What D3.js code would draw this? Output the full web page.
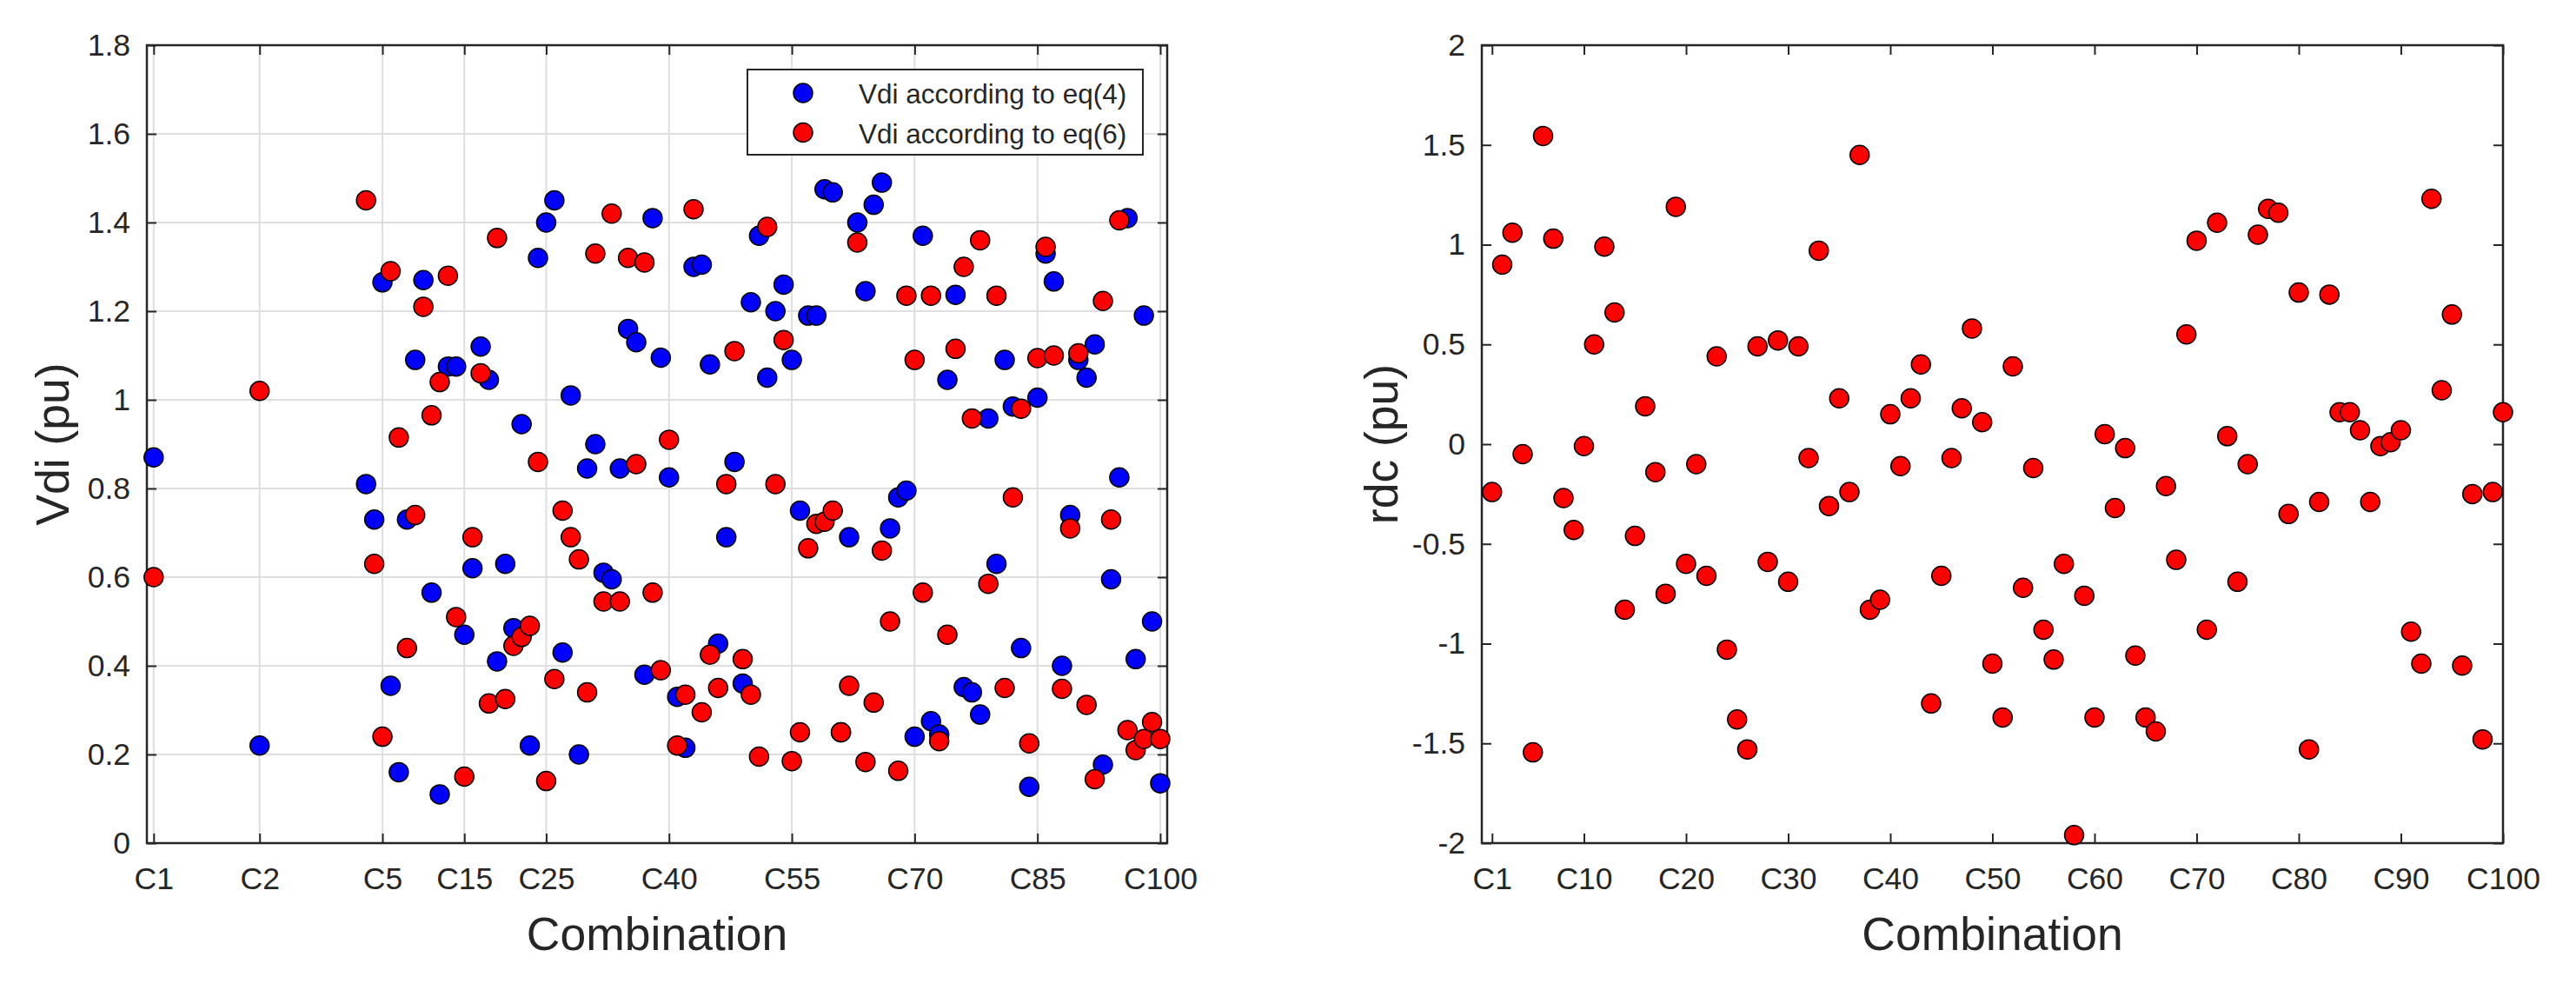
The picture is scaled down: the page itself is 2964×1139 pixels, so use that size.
<!DOCTYPE html>
<html>
<head>
<meta charset="utf-8">
<script src="https://cdn.jsdelivr.net/npm/d3@7"></script>
<style>
  html, body { margin: 0; padding: 0; background: #ffffff; }
  svg text { font-family: "Liberation Sans", Arial, Helvetica, sans-serif; fill: #262626; }
</style>
</head>
<body>
<svg id="chart" width="2964" height="1139"></svg>
<script>
// ---------------- DATA ----------------
// Combination index (1..100) for every point
const combos = d3.range(1, 101);

// Left panel: Vdi according to eq(4) (blue) and eq(6) (red), pu
const vdiEq4 = [
  0.87, 0.22, 0.81, 0.73, 1.265, 0.355, 0.16, 0.73, 1.09, 1.27,
  0.565, 0.11, 1.075, 1.075, 0.47, 0.62, 1.12, 1.045, 0.41, 0.63,
  0.485, 0.945, 0.22, 1.32, 1.40, 1.45, 0.43, 1.01, 0.20, 0.845,
  0.90, 0.61, 0.595, 0.845, 1.16, 1.13, 0.38, 1.41, 1.095, 0.825,
  0.33, 0.215, 1.30, 1.305, 1.08, 0.45, 0.69, 0.86, 0.36, 1.22,
  1.37, 1.05, 1.20, 1.26, 1.09, 0.75, 1.19, 1.19, 1.475, 1.468,
  0.25, 0.69, 1.40, 1.245, 1.44, 1.49, 0.71, 0.78, 0.795, 0.24,
  1.37, 0.275, 0.245, 1.045, 1.237, 0.352, 0.34, 0.29, 0.958, 0.63,
  1.09, 0.985, 0.44, 0.127, 1.005, 1.33, 1.267, 0.40, 0.74, 1.09,
  1.05, 1.125, 0.177, 0.595, 0.825, 1.41, 0.415, 1.19, 0.50, 0.135
];
const vdiEq6 = [
  0.60, 1.02, 1.45, 0.63, 0.24, 1.29, 0.915, 0.44, 0.74, 1.21,
  0.965, 1.04, 1.28, 0.51, 0.15, 0.69, 1.06, 0.315, 1.365, 0.325,
  0.445, 0.465, 0.49, 0.86, 0.14, 0.37, 0.75, 0.69, 0.64, 0.34,
  1.33, 0.545, 1.42, 0.545, 1.32, 0.855, 1.31, 0.565, 0.39, 0.91,
  0.22, 0.335, 1.43, 0.295, 0.425, 0.35, 0.81, 1.11, 0.415, 0.335,
  0.195, 1.39, 0.81, 1.135, 0.185, 0.25, 0.665, 0.72, 0.725, 0.75,
  0.25, 0.355, 1.355, 0.183, 0.317, 0.66, 0.50, 0.163, 1.235, 1.09,
  0.565, 1.235, 0.23, 0.47, 1.115, 1.30, 0.958, 1.36, 0.585, 1.235,
  0.35, 0.78, 0.98, 0.225, 1.094, 1.345, 1.10, 0.348, 0.71, 1.105,
  0.312, 0.144, 1.223, 0.73, 1.405, 0.255, 0.21, 0.235, 0.273, 0.235
];

// Right panel: rdc, pu
const rdc = [
  -0.24, 0.90, 1.06, -0.05, -1.545, 1.545, 1.03, -0.27, -0.43, -0.01,
  0.50, 0.99, 0.66, -0.83, -0.46, 0.19, -0.14, -0.75, 1.19, -0.60,
  -0.10, -0.66, 0.44, -1.03, -1.38, -1.53, 0.49, -0.59, 0.52, -0.69,
  0.49, -0.07, 0.97, -0.31, 0.23, -0.24, 1.45, -0.83, -0.78, 0.15,
  -0.11, 0.23, 0.40, -1.30, -0.66, -0.07, 0.18, 0.58, 0.11, -1.10,
  -1.37, 0.39, -0.72, -0.12, -0.93, -1.08, -0.60, -1.96, -0.76, -1.37,
  0.05, -0.32, -0.02, -1.06, -1.37, -1.44, -0.21, -0.58, 0.55, 1.02,
  -0.93, 1.11, 0.04, -0.69, -0.10, 1.05, 1.18, 1.16, -0.35, 0.76,
  -1.53, -0.29, 0.75, 0.16, 0.16, 0.07, -0.29, -0.01, 0.01, 0.07,
  -0.94, -1.10, 1.23, 0.27, 0.65, -1.11, -0.25, -1.48, -0.24, 0.16
];

// Tick positions (combination index) and labels
const leftXTicks = [1, 2, 5, 15, 25, 40, 55, 70, 85, 100];
const rightXTicks = [1, 10, 20, 30, 40, 50, 60, 70, 80, 90, 100];
const leftYTicks = [0, 0.2, 0.4, 0.6, 0.8, 1, 1.2, 1.4, 1.6, 1.8];
const rightYTicks = [-2, -1.5, -1, -0.5, 0, 0.5, 1, 1.5, 2];
const seriesNames = ["Vdi according to eq(4)", "Vdi according to eq(6)"];

// ---------------- LAYOUT ----------------
const svg = d3.select("#chart");
const axisColor = "#262626";
const tickFont = 35.5;
const labelFont = 53.5;
const markerR = 11;
const blue = "#0000ff", red = "#ff0000";

const panelL = { left: 169, right: 1343, top: 52, bottom: 970 };
const panelR = { left: 1705, right: 2880, top: 52, bottom: 970 };

// left panel x: first combinations are spread out, the rest evenly spaced
const xL = d3.scaleLinear().domain([1, 2, 3, 100]).range([176.8, 298.7, 421.2, 1335]);
const yL = d3.scaleLinear().domain([0, 1.8]).range([panelL.bottom, panelL.top]);
const xR = d3.scaleLinear().domain([0, 100]).range([panelR.left, panelR.right]);
const yR = d3.scaleLinear().domain([-2, 2]).range([panelR.bottom, panelR.top]);

const fmtY = d => String(d);
const fmtC = d => "C" + d;

function drawAxes(panel, x, y, xTicks, yTicks, grid) {
  const g = svg.append("g");
  const w = panel.right - panel.left, h = panel.bottom - panel.top;

  if (grid) {
    const gg = g.append("g").attr("stroke", "#dedede").attr("stroke-width", 2);
    gg.selectAll("line.v").data(xTicks).join("line")
      .attr("x1", d => x(d)).attr("x2", d => x(d))
      .attr("y1", panel.top).attr("y2", panel.bottom);
    gg.selectAll("line.h").data(yTicks).join("line")
      .attr("x1", panel.left).attr("x2", panel.right)
      .attr("y1", d => y(d)).attr("y2", d => y(d));
  }

  // x range limited to panel edges for the axis generators
  const xAx = x.copy();
  const yAx = y.copy();

  const bottom = g.append("g").attr("transform", `translate(0,${panel.bottom})`)
    .call(d3.axisBottom(xAx).tickValues(xTicks).tickFormat(fmtC)
      .tickSizeInner(-11).tickSizeOuter(0).tickPadding(28));
  const top = g.append("g").attr("transform", `translate(0,${panel.top})`)
    .call(d3.axisTop(xAx).tickValues(xTicks).tickFormat("")
      .tickSizeInner(-11).tickSizeOuter(0));
  const left = g.append("g").attr("transform", `translate(${panel.left},0)`)
    .call(d3.axisLeft(yAx).tickValues(yTicks).tickFormat(fmtY)
      .tickSizeInner(-11).tickSizeOuter(0).tickPadding(19));
  const right = g.append("g").attr("transform", `translate(${panel.right},0)`)
    .call(d3.axisRight(yAx).tickValues(yTicks).tickFormat("")
      .tickSizeInner(-11).tickSizeOuter(0));

  [bottom, top, left, right].forEach(a => {
    a.select(".domain").remove();
    a.selectAll(".tick line").attr("stroke", axisColor).attr("stroke-width", 2);
    a.selectAll(".tick text").attr("font-size", tickFont).attr("fill", axisColor)
      .style("font-family", '"Liberation Sans", Arial, sans-serif');
  });

  g.append("rect")
    .attr("x", panel.left).attr("y", panel.top)
    .attr("width", w).attr("height", h)
    .attr("fill", "none").attr("stroke", axisColor).attr("stroke-width", 2.5);
  return g;
}

// ---------------- LEFT PANEL ----------------
drawAxes(panelL, xL, yL, leftXTicks, leftYTicks, true);

const ptsL = svg.append("g");
ptsL.selectAll("circle.b").data(combos).join("circle")
  .attr("cx", d => xL(d)).attr("cy", (d, i) => yL(vdiEq4[i])).attr("r", markerR)
  .attr("fill", blue).attr("stroke", "#000").attr("stroke-width", 1.5);
ptsL.selectAll("circle.r").data(combos).join("circle")
  .attr("cx", d => xL(d)).attr("cy", (d, i) => yL(vdiEq6[i])).attr("r", markerR)
  .attr("fill", red).attr("stroke", "#000").attr("stroke-width", 1.5);

svg.append("text")
  .attr("x", (panelL.left + panelL.right) / 2).attr("y", 1093)
  .attr("text-anchor", "middle").attr("font-size", labelFont)
  .text("Combination");
svg.append("text")
  .attr("transform", `translate(79,${(panelL.top + panelL.bottom) / 2}) rotate(-90)`)
  .attr("text-anchor", "middle").attr("font-size", labelFont)
  .text("Vdi (pu)");

// legend
const leg = svg.append("g");
leg.append("rect").attr("x", 860).attr("y", 80).attr("width", 455).attr("height", 98)
  .attr("fill", "#fff").attr("stroke", axisColor).attr("stroke-width", 2);
const legRows = [{ name: seriesNames[0], color: blue, cy: 107 }, { name: seriesNames[1], color: red, cy: 152.5 }];
legRows.forEach(r => {
  leg.append("circle").attr("cx", 924).attr("cy", r.cy).attr("r", markerR)
    .attr("fill", r.color).attr("stroke", "#000").attr("stroke-width", 1.5);
  leg.append("text").attr("x", 988).attr("y", r.cy + 12)
    .attr("font-size", 31.5).text(r.name);
});

// ---------------- RIGHT PANEL ----------------
drawAxes(panelR, xR, yR, rightXTicks, rightYTicks, false);

svg.append("g").selectAll("circle").data(combos).join("circle")
  .attr("cx", d => xR(d)).attr("cy", (d, i) => yR(rdc[i])).attr("r", markerR)
  .attr("fill", red).attr("stroke", "#000").attr("stroke-width", 1.5);

svg.append("text")
  .attr("x", (panelR.left + panelR.right) / 2).attr("y", 1093)
  .attr("text-anchor", "middle").attr("font-size", labelFont)
  .text("Combination");
svg.append("text")
  .attr("transform", `translate(1608,${(panelR.top + panelR.bottom) / 2}) rotate(-90)`)
  .attr("text-anchor", "middle").attr("font-size", labelFont)
  .text("rdc (pu)");
</script>
</body>
</html>
